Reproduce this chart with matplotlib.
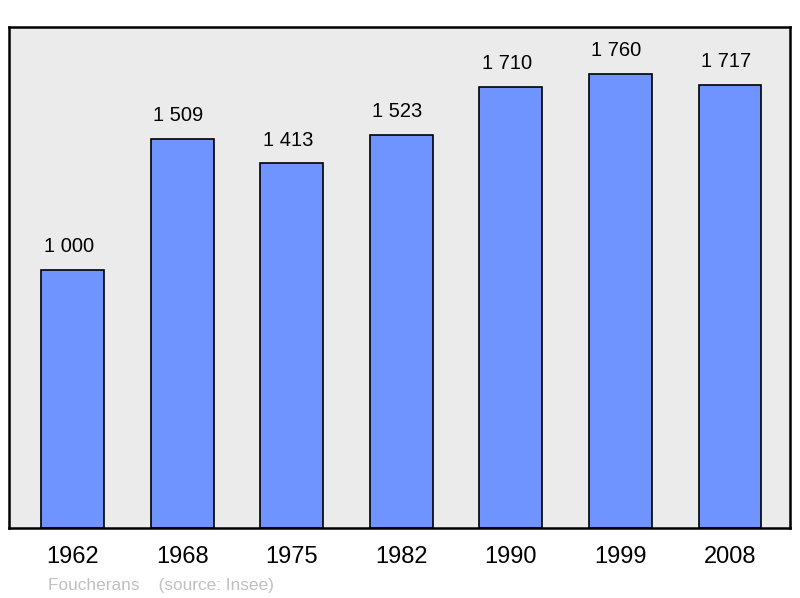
import matplotlib.pyplot as plt

years = ["1962", "1968", "1975", "1982", "1990", "1999", "2008"]
population = [1000, 1509, 1413, 1523, 1710, 1760, 1717]
value_labels = ["1 000", "1 509", "1 413", "1 523", "1 710", "1 760", "1 717"]

plt.rcParams["font.family"] = ["Liberation Sans", "DejaVu Sans"]

fig = plt.figure(figsize=(8, 5.98), dpi=100)
ax = fig.add_axes([9 / 800, 70 / 598, 781 / 800, 501 / 598])
ax.set_facecolor("#ebebeb")

x = range(len(years))
ax.bar(x, population, width=0.575, color="#7094ff", edgecolor="black", linewidth=1.2, zorder=2)

for i, (v, lab) in enumerate(zip(population, value_labels)):
    ax.annotate(lab, (i, v), xytext=(-3, 10), textcoords="offset points",
                ha="center", va="bottom", fontsize=14.5)

ax.set_xlim(-0.584, 6.548)
ax.set_ylim(0, 1942)
ax.set_yticks([])
ax.set_xticks(list(x))
ax.set_xticklabels(years, fontsize=17)
ax.tick_params(axis="x", length=0, pad=13)
for s in ax.spines.values():
    s.set_linewidth(1.8)

fig.text(48 / 800, 1 - 590 / 598, "Foucherans    (source: Insee)", color="#c0c0c0",
         fontsize=12.4, ha="left", va="baseline")

fig.savefig("out.png", dpi=100)
